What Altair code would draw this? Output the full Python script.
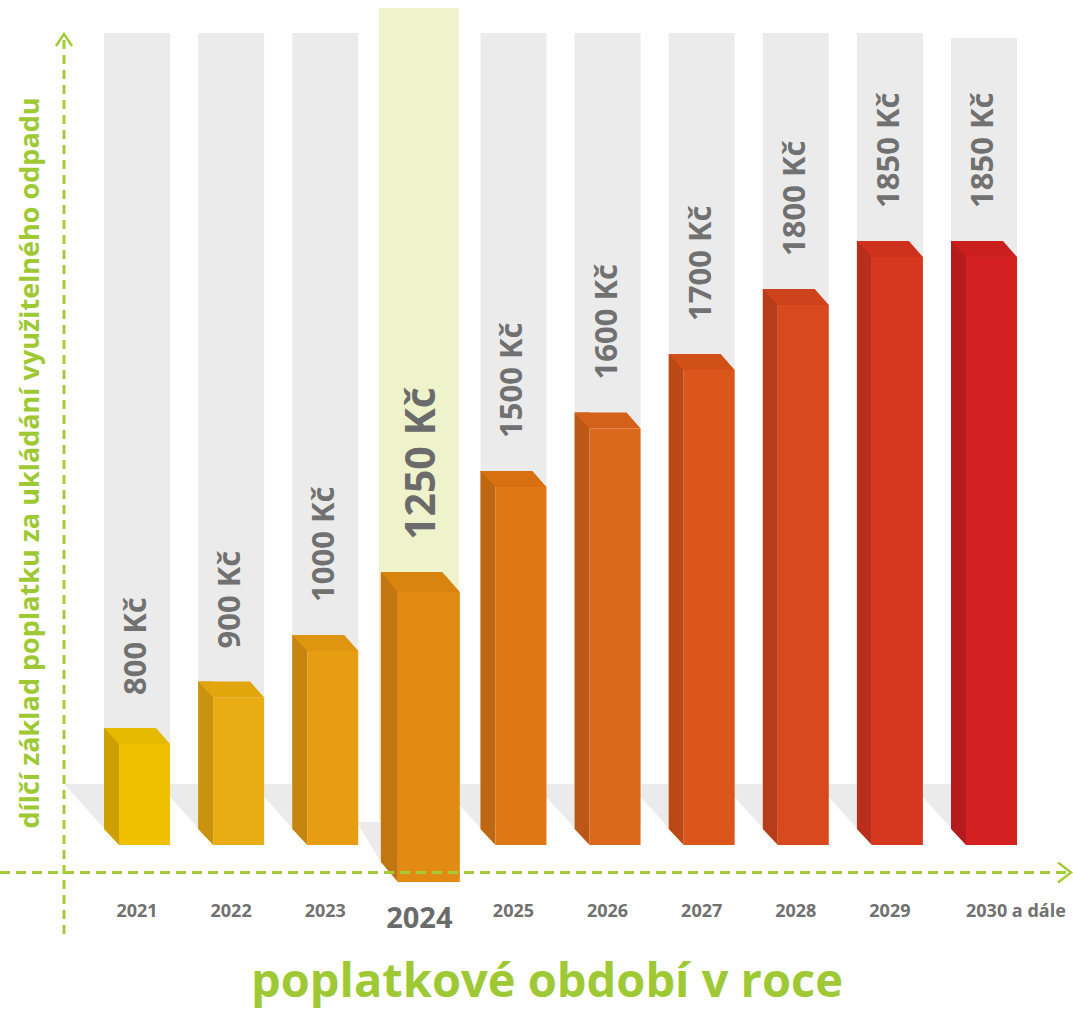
import altair as alt
import pandas as pd

# ---------------- data ----------------
years = ["2021", "2022", "2023", "2024", "2025", "2026", "2027", "2028", "2029", "2030"]
year_labels = ["2021", "2022", "2023", "2024", "2025", "2026", "2027", "2028", "2029", "2030 a dále"]
values = [800, 900, 1000, 1250, 1500, 1600, 1700, 1800, 1850, 1850]
value_labels = ["800 Kč", "900 Kč", "1000 Kč", "1250 Kč", "1500 Kč", "1600 Kč",
                "1700 Kč", "1800 Kč", "1850 Kč", "1850 Kč"]
front_colors = ["#EEC000", "#EAAC14", "#E69D12", "#E28A12", "#DF7714",
                "#DC681B", "#DA561A", "#D84A1E", "#D6381F", "#D42021"]
side_colors = ["#CDA000", "#C9930F", "#C5850F", "#C27610", "#BF6611",
               "#BC5817", "#BA4916", "#B73D18", "#B82E1A", "#B51B1C"]
top_colors = ["#E6B800", "#E2A50C", "#DE9510", "#DA8410", "#D87012",
              "#D46119", "#D15018", "#CE431B", "#CC321C", "#CB1E1F"]
HIGHLIGHT = "2024"
BASE = 580  # value at the floor of the bars

df = pd.DataFrame({
    "i": list(range(len(years))),
    "year": years,
    "year_label": year_labels,
    "value": values,
    "label": value_labels,
    "front": front_colors,
    "side": side_colors,
    "top": top_colors,
})
df["base"] = BASE
normal = df[df["year"] != HIGHLIGHT]
hl = df[df["year"] == HIGHLIGHT]
last = df.tail(1)
mid = df[(df["year"] != HIGHLIGHT) & (df.index < len(df) - 1)]

# ---------------- styles ----------------
GREEN = "#A3CC38"
GREEN_TXT = "#9EC934"
GRAY_COL = "#EBEBEB"
HL_COL = "#EEF3CC"
TXT = "#717171"
FONT = "Open Sans"

xs = alt.Scale(domain=[0, 9], range=[137, 984], nice=False, zero=False, padding=0)
ys = alt.Scale(domain=[580, 800, 1000, 1500, 1700, 1800, 1850],
               range=[845, 744, 651, 487, 370, 305, 257], nice=False, zero=False, padding=0)
X = alt.X("i:Q", scale=xs, axis=None)
Y = alt.Y("value:Q", scale=ys, axis=None)
YB = alt.Y("base:Q", scale=ys, axis=None)


def shape(data, path, colfield, ychan):
    return alt.Chart(data).mark_point(
        shape=path, size=4, filled=True, opacity=1, strokeWidth=0
    ).encode(x=X, y=ychan, color=alt.Color(f"{colfield}:N", scale=None))


# background columns
cols = alt.Chart(mid).mark_bar(width=66, color=GRAY_COL).encode(
    x=X, y=alt.value(33), y2=alt.value(829))
cols2 = alt.Chart(last).mark_bar(width=66, color=GRAY_COL).encode(
    x=X, y=alt.value(38), y2=alt.value(829))
hlcol = alt.Chart(hl).mark_bar(width=80, xOffset=-0.5, color=HL_COL).encode(
    x=X, y=alt.value(8), y2=alt.value(860))

# floor shadows
shadow_n = alt.Chart(normal).mark_point(
    shape="M -73 -61 L -33 -61 L -33 -17 Z", size=4, filled=True, opacity=1,
    strokeWidth=0, color=GRAY_COL).encode(x=X, y=YB)
shadow_h = alt.Chart(hl).mark_point(
    shape="M -62.5 -23 L -38.5 -23 L -38.5 17 Z", size=4, filled=True, opacity=1,
    strokeWidth=0, color=GRAY_COL).encode(x=X, y=YB)

# normal 3D bars
side_n = alt.Chart(normal).mark_bar(width=15, xOffset=-25.5, yOffset=-16, y2Offset=-16).encode(
    x=X, y=Y, y2=alt.Y2("base:Q"), color=alt.Color("side:N", scale=None))
bot_n = shape(normal, "M -33 -16 L -18 -16 L -18 0 Z", "side", YB)
front_n = alt.Chart(normal).mark_bar(width=51, xOffset=7.5).encode(
    x=X, y=Y, y2=alt.Y2("base:Q"), color=alt.Color("front:N", scale=None))
top_n = shape(normal, "M -33 -16 L 19 -16 L 33 0 L -18 0 Z", "top", Y)

# highlighted (2024) bar, drawn larger
side_h = alt.Chart(hl).mark_bar(width=17, xOffset=-30, yOffset=3, y2Offset=17).encode(
    x=X, y=Y, y2=alt.Y2("base:Q"), color=alt.Color("side:N", scale=None))
bot_h = shape(hl, "M -38.5 17 L -21.5 17 L -21.5 37 Z", "side", YB)
front_h = alt.Chart(hl).mark_bar(width=62, xOffset=9.5, yOffset=23, y2Offset=37).encode(
    x=X, y=Y, y2=alt.Y2("base:Q"), color=alt.Color("front:N", scale=None))
top_h = shape(hl, "M -38.5 3 L 23 3 L 40.5 23 L -21.5 23 Z", "top", Y)

# value labels
vlab_n = alt.Chart(normal).mark_text(
    angle=270, align="left", baseline="middle", dx=49, font=FONT, fontWeight="bold",
    fontSize=31, color=TXT).encode(x=X, y=Y, text="label:N")
vlab_h = alt.Chart(hl).mark_text(
    angle=270, align="left", baseline="middle", dx=29, dy=3.5, font=FONT, fontWeight="bold",
    fontSize=41, color="#6B6B6B").encode(x=X, y=Y, text="label:N")

# x labels
xlab_n = alt.Chart(mid).mark_text(
    align="center", baseline="alphabetic", font=FONT, fontWeight="bold", fontSize=18,
    color=TXT).encode(x=X, y=alt.value(917), text="year_label:N")
xlab_last = alt.Chart(last).mark_text(
    align="left", baseline="alphabetic", dx=-18, font=FONT, fontWeight="bold", fontSize=18,
    color=TXT).encode(x=X, y=alt.value(917), text="year_label:N")
xlab_h = alt.Chart(hl).mark_text(
    align="center", baseline="alphabetic", font=FONT, fontWeight="bold", fontSize=29,
    color="#6B6B6B").encode(x=X, y=alt.value(928), text="year_label:N")

# axes (decorative dashed arrows)
one = pd.DataFrame({"k": [0]})
vaxis = alt.Chart(one).mark_rule(color=GREEN, strokeWidth=3, strokeDash=[9, 6]).encode(
    x=alt.value(64), y=alt.value(40), y2=alt.value(936))
haxis = alt.Chart(one).mark_rule(color=GREEN, strokeWidth=3, strokeDash=[10, 6]).encode(
    x=alt.value(0), x2=alt.value(1068), y=alt.value(872.5))
varrow = alt.Chart(one).mark_point(
    shape="M -8 12 L 0 0 L 8 12", size=4, filled=False, opacity=1, strokeWidth=2.5,
    color=GREEN).encode(x=alt.value(64), y=alt.value(34))
harrow = alt.Chart(one).mark_point(
    shape="M -13 -10 L 0 0 L -13 10", size=4, filled=False, opacity=1, strokeWidth=2.5,
    color=GREEN).encode(x=alt.value(1071), y=alt.value(872.5))

# titles
ytitle = alt.Chart(one).mark_text(
    angle=270, align="center", baseline="alphabetic", font=FONT, fontWeight="bold",
    fontSize=27, color=GREEN_TXT, text="dílčí základ poplatku za ukládání využitelného odpadu"
).encode(x=alt.value(39), y=alt.value(463))
xtitle = alt.Chart(one).mark_text(
    align="center", baseline="alphabetic", font=FONT, fontWeight="bold",
    fontSize=47, color=GREEN_TXT, text="poplatkové období v roce"
).encode(x=alt.value(547), y=alt.value(997))

chart = alt.layer(
    cols, cols2, hlcol, shadow_n, shadow_h,
    side_n, bot_n, front_n, top_n,
    side_h, bot_h, front_h, top_h,
    vlab_n, vlab_h,
    vaxis, haxis, varrow, harrow,
    xlab_n, xlab_last, xlab_h,
    ytitle, xtitle,
).properties(
    width=1073, height=1013, padding=0, autosize="none", background="white"
).configure_view(stroke=None)

chart.save("out.html", embed_options={"renderer": "svg", "actions": False})
